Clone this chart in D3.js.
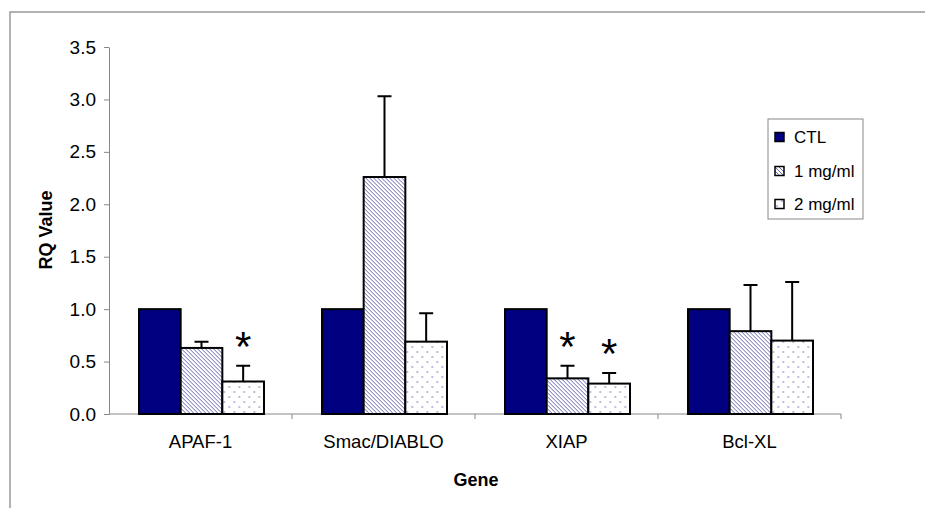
<!DOCTYPE html>
<meta charset="utf-8">
<style>
 body { margin: 0; background: #fff; }
 text { font-family: "Liberation Sans", Arial, sans-serif; }
 .tick text { font-size: 19px; fill: #000; }
 .tick line { stroke: #888; }
 .bar { stroke: #000; stroke-width: 2px; }
 .err { stroke: #000; stroke-width: 2px; fill: none; }
</style>
<body>
<svg class="chart"></svg>
<script src="https://cdn.jsdelivr.net/npm/d3@7"></script>
<script>

 // values
 var genes = ["APAF-1", "Smac/DIABLO", "XIAP", "Bcl-XL"];
 var series = ["CTL", "1 mg/ml", "2 mg/ml"];
 var ctl = [1.0, 1.0, 1.0, 1.0];
 var dose1 = [0.63, 2.26, 0.34, 0.79];
 var dose2 = [0.31, 0.69, 0.29, 0.70];
 var ctlErr = [0, 0, 0, 0];
 var dose1Err = [0.06, 0.77, 0.12, 0.44];
 var dose2Err = [0.15, 0.27, 0.10, 0.56];
 var dose1Star = [false, false, true, false];
 var dose2Star = [true, false, true, false];
 var yTicks = [0, 0.5, 1.0, 1.5, 2.0, 2.5, 3.0, 3.5];

 var vals = [ctl, dose1, dose2];
 var errs = [ctlErr, dose1Err, dose2Err];
 var stars = [[false, false, false, false], dose1Star, dose2Star];
 var fills = ["#000080", "url(#hatch)", "url(#dots)"];

 var svg = d3.select(".chart").attr("width", 925).attr("height", 508);

 var defs = svg.append("defs");
 var hatch = defs.append("pattern").attr("id", "hatch")
                 .attr("patternUnits", "userSpaceOnUse")
                 .attr("width", 4).attr("height", 4);
 hatch.append("rect").attr("width", 4).attr("height", 4).attr("fill", "#fff");
 hatch.append("path").attr("d", "M0,0L4,4M-1,3L1,5M3,-1L5,1")
      .attr("stroke", "#40409a").attr("stroke-width", 0.8);

 var dots = defs.append("pattern").attr("id", "dots")
                .attr("patternUnits", "userSpaceOnUse")
                .attr("width", 10).attr("height", 10);
 dots.append("rect").attr("width", 10).attr("height", 10).attr("fill", "#fff");
 dots.append("circle").attr("cx", 2).attr("cy", 2).attr("r", 0.7).attr("fill", "#4a4aa0");
 dots.append("circle").attr("cx", 7).attr("cy", 7).attr("r", 0.7).attr("fill", "#4a4aa0");

 // outer frame (only top and left visible)
 svg.append("path").attr("d", "M10,508L10,12L925,12")
    .attr("fill", "none").attr("stroke", "#999").attr("stroke-width", 1.5);

 var y = d3.scaleLinear().domain([0, 3.5]).range([414, 47]);
 var x = d3.scaleBand().domain(genes).range([109, 841]);
 var xs = d3.scaleBand().domain(series).range([30, 155]);

 // y axis
 var yAxis = svg.append("g").attr("transform", "translate(109,0)")
    .call(d3.axisLeft(y).tickValues(yTicks).tickFormat(d3.format(".1f"))
          .tickSize(5).tickSizeOuter(0).tickPadding(8));
 yAxis.select(".domain").attr("stroke", "#888");

 // x axis line with ticks at category boundaries
 svg.append("line").attr("x1", 109).attr("x2", 841).attr("y1", 414).attr("y2", 414)
    .attr("stroke", "#888");
 svg.selectAll(".xtick").data(genes).enter().append("line")
    .attr("x1", function(d) { return x(d) + x.bandwidth(); })
    .attr("x2", function(d) { return x(d) + x.bandwidth(); })
    .attr("y1", 414).attr("y2", 419).attr("stroke", "#888");

 svg.selectAll(".xlab").data(genes).enter().append("text")
    .attr("x", function(d) { return x(d) + x.bandwidth() / 2; })
    .attr("y", 448).attr("text-anchor", "middle")
    .style("font-size", "18.5px").text(function(d) { return d; });

 // bars
 var rows = [];
 genes.forEach(function(g, i) {
     series.forEach(function(s, j) {
         rows.push({gene: g, s: s, j: j, v: vals[j][i], e: errs[j][i], star: stars[j][i]});
     });
 });

 var cell = svg.selectAll(".cell").data(rows).enter().append("g")
    .attr("transform", function(d) { return "translate(" + (x(d.gene) + xs(d.s)) + ",0)"; });

 cell.filter(function(d) { return d.e > 0; }).append("path").attr("class", "err")
     .attr("d", function(d) {
         var cx = xs.bandwidth() / 2;
         return "M" + cx + "," + y(d.v) + "V" + y(d.v + d.e)
              + "M" + (cx - 7) + "," + y(d.v + d.e) + "H" + (cx + 7);
     });

 cell.append("rect").attr("class", "bar")
     .attr("y", function(d) { return y(d.v); })
     .attr("width", xs.bandwidth())
     .attr("height", function(d) { return y(0) - y(d.v); })
     .attr("fill", function(d) { return fills[d.j]; });

 cell.filter(function(d) { return d.star; }).append("text")
     .attr("x", xs.bandwidth() / 2)
     .attr("y", function(d) { return y(d.v + d.e) - 5; })
     .attr("text-anchor", "middle").style("font-size", "42px")
     .text("*");

 // axis titles
 svg.append("text").attr("x", 476).attr("y", 486).attr("text-anchor", "middle")
    .style("font-size", "18px").style("font-weight", "bold").text("Gene");
 svg.append("text").attr("transform", "translate(52,230) rotate(-90)")
    .attr("text-anchor", "middle")
    .style("font-size", "18px").style("font-weight", "bold").text("RQ Value");

 // legend
 var legend = svg.append("g");
 legend.append("rect").attr("x", 768).attr("y", 119).attr("width", 95).attr("height", 100)
       .attr("fill", "#fff").attr("stroke", "#888");
 var item = legend.selectAll(".item").data(series).enter().append("g")
       .attr("transform", function(d, i) { return "translate(775," + [137, 171, 204][i] + ")"; });
 item.append("rect").attr("x", 0).attr("y", -4.5).attr("width", 9).attr("height", 9)
     .attr("fill", function(d, i) { return fills[i]; })
     .attr("stroke", "#000").attr("stroke-width", 1.5);
 item.append("text").attr("x", 19).attr("dy", "0.35em")
     .style("font-size", "17px").text(function(d) { return d; });

</script>
</body>
